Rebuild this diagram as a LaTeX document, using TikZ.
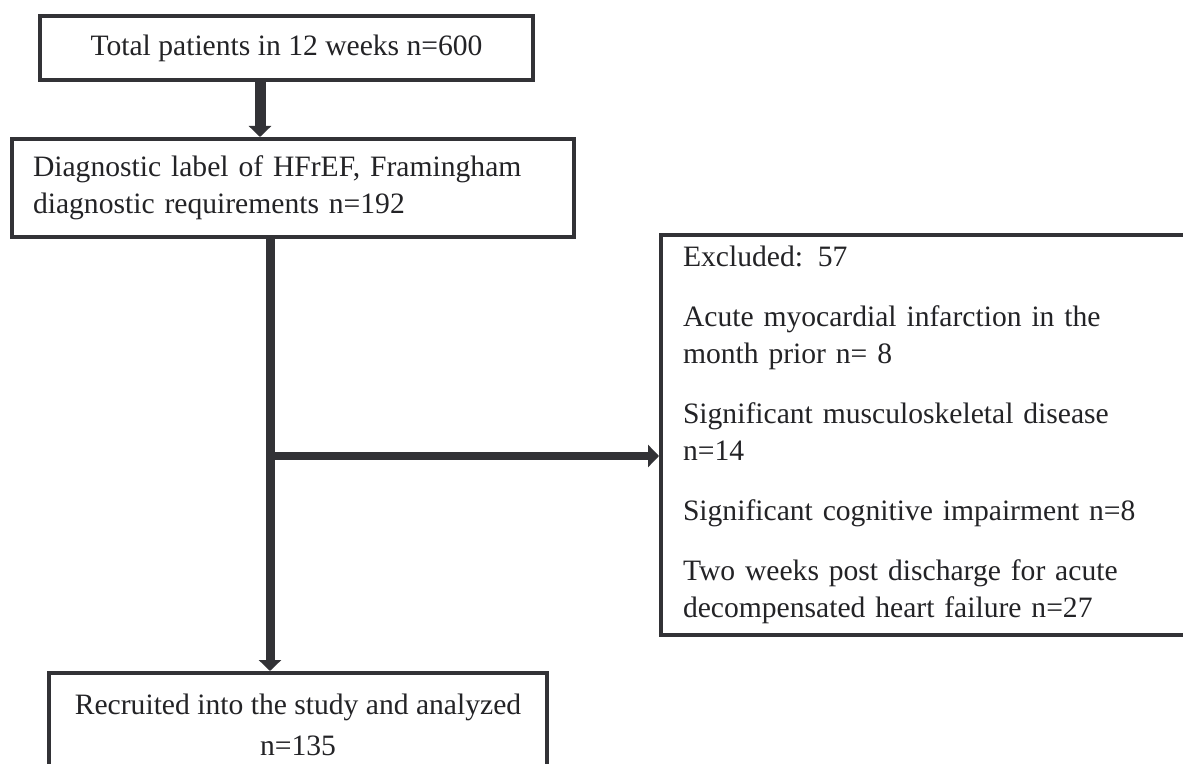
\documentclass[tikz,border=0pt]{standalone}
\usepackage{fontspec}
\setmainfont{Liberation Serif}
\usetikzlibrary{arrows.meta}
\definecolor{ink}{RGB}{50,50,54}
\definecolor{txt}{RGB}{35,35,38}
\begin{document}
\begin{tikzpicture}[x=0.5pt,y=-0.5pt,
  box/.style={draw=ink, line width=2pt, fill=white, text=txt,
    font=\fontsize{14.8}{18.5}\selectfont, inner sep=0pt},
  flow/.style={draw=ink, line width=5pt, -{Triangle[width=11pt,length=5.5pt]}}]
\useasboundingbox (0,0) rectangle (1183,764);
\clip (0,0) rectangle (1183,764);
\fill[white] (0,0) rectangle (1183,764);

\node[box, minimum width=246.5pt, minimum height=32pt] (b1) at (286.5,48)
  {Total patients in 12 weeks n=600};

\node[box, minimum width=281pt, minimum height=49pt, inner xsep=10.5pt,
  text width=260pt, align=left] (b2) at (293,188)
  {Diagnostic label of HFrEF, Framingham\\diagnostic requirements n=192};

\node[box, minimum width=249pt, minimum height=52pt, align=center] (b3) at (298,725)
  {Recruited into the study and analyzed\\[2pt]n=135};

\node[box, minimum width=274.5pt, minimum height=200pt, inner xsep=11pt,
  text width=252.5pt, align=left] (b4) at (935.5,435)
  {Excluded: 57\\[11.5pt]
   Acute myocardial infarction in the\\
   month prior n= 8\\[11.5pt]
   Significant musculoskeletal disease\\
   n=14\\[11.5pt]
   Significant cognitive impairment n=8\\[11.5pt]
   Two weeks post discharge for acute\\
   decompensated heart failure n=27};

\coordinate (x1) at (260,0);
\coordinate (x2) at (270,0);
\coordinate (j) at (270,456);

\draw[flow, line width=5.5pt] (x1 |- b1.south) -- (x1 |- b2.north);
\draw[flow, line width=4.5pt] (x2 |- b2.south) -- (x2 |- b3.north);
\draw[flow, line width=4pt] (j) -- (j -| b4.west);
\end{tikzpicture}
\end{document}
